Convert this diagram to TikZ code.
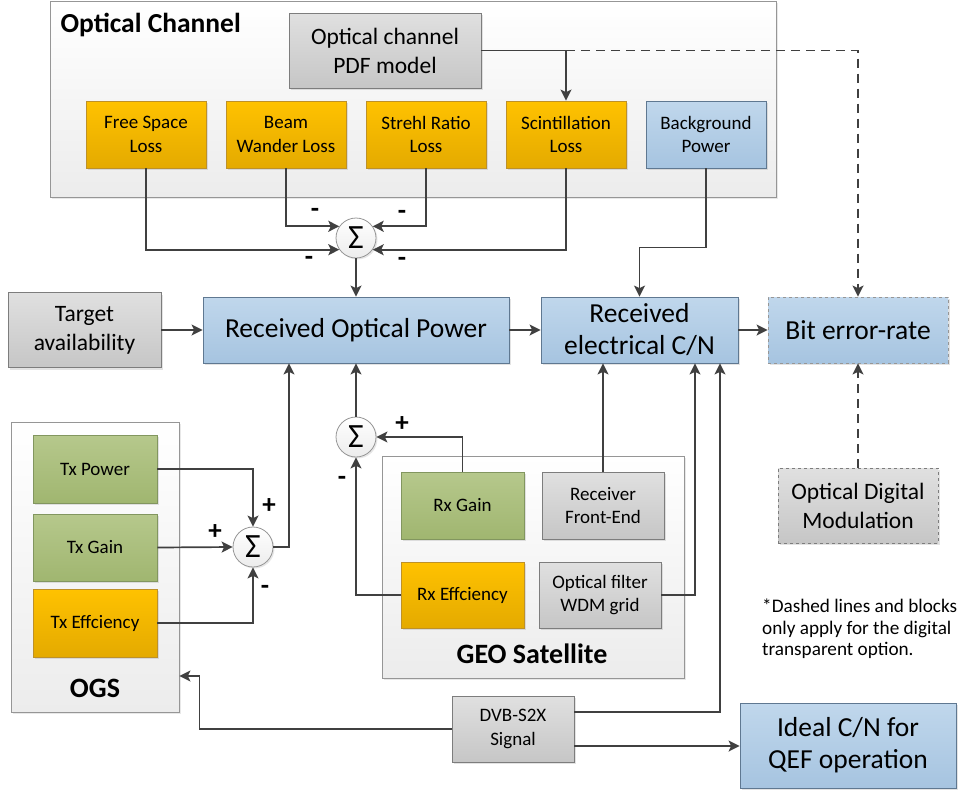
\documentclass[tikz,border=0pt]{standalone}
\usepackage{fontspec}
\setmainfont{Carlito}
\usetikzlibrary{arrows.meta,calc,shadows}
\definecolor{AmberTop}{RGB}{255,194,0}
\definecolor{AmberBot}{RGB}{228,170,0}
\definecolor{AmberLine}{RGB}{190,145,40}
\definecolor{SageTop}{RGB}{182,200,140}
\definecolor{SageBot}{RGB}{160,182,112}
\definecolor{SageLine}{RGB}{130,150,95}
\definecolor{SkyTop}{RGB}{192,215,236}
\definecolor{SkyBot}{RGB}{166,196,224}
\definecolor{SkyLine}{RGB}{95,120,145}
\definecolor{AshTop}{RGB}{224,224,224}
\definecolor{AshBot}{RGB}{198,198,198}
\definecolor{AshLine}{RGB}{125,125,125}
\definecolor{PanelBot}{RGB}{236,236,236}
\definecolor{WireGray}{RGB}{64,64,64}
\definecolor{FrameGray}{RGB}{150,150,150}

\begin{document}
\begin{tikzpicture}[x=1pt,y=-1pt,>={Stealth[length=11pt,width=11pt,inset=2.5pt]},
    blk/.style={draw,line width=0.8pt,align=center,inner sep=0pt,
      drop shadow={shadow xshift=2pt,shadow yshift=-2pt,opacity=0.22}},
    amber/.style={blk,top color=AmberTop,bottom color=AmberBot,draw=AmberLine},
    sage/.style={blk,top color=SageTop,bottom color=SageBot,draw=SageLine},
    sky/.style={blk,top color=SkyTop,bottom color=SkyBot,draw=SkyLine},
    ash/.style={blk,top color=AshTop,bottom color=AshBot,draw=AshLine},
    panel/.style={draw=FrameGray,line width=0.8pt,top color=white,bottom color=PanelBot,inner sep=0pt,
      drop shadow={shadow xshift=2pt,shadow yshift=-2pt,opacity=0.18}},
    sumnode/.style={circle,draw=FrameGray,line width=0.8pt,top color=white,bottom color=PanelBot,
      minimum size=40pt,inner sep=0pt,font=\fontsize{34}{34}\selectfont,
      drop shadow={shadow xshift=1.5pt,shadow yshift=-1.5pt,opacity=0.2}},
    txtS/.style={font=\fontsize{19}{23.5}\selectfont},
    txtM/.style={font=\fontsize{23.5}{29}\selectfont},
    txtL/.style={font=\fontsize{27.5}{32}\selectfont},
    ttl/.style={font=\fontsize{28}{30}\selectfont\bfseries},
    sgn/.style={font=\fontsize{27}{27}\selectfont\bfseries,inner sep=0pt},
    wire/.style={draw=WireGray,line width=1.7pt}]
  \useasboundingbox (0,0) rectangle (961,793);

  % optical channel
  \node[panel,minimum width=726pt,minimum height=196pt] (och) at (413,99) {};
  \node[ttl,anchor=west,font=\fontsize{27.5}{30}\selectfont\bfseries] (ochT) at (57,25) {Optical Channel};
  \node[ash,font=\fontsize{23.5}{29}\selectfont,minimum width=192pt,minimum height=75pt] (pdf) at (385,50.5) {Optical channel\\PDF model};
  \node[amber,txtS,minimum width=120pt,minimum height=67pt] (fsl) at (146,134.5) {Free Space\\Loss};
  \node[amber,txtS,minimum width=120pt,minimum height=67pt] (bwl) at (286,134.5) {Beam\\Wander Loss};
  \node[amber,txtS,minimum width=120pt,minimum height=67pt] (srl) at (426,134.5) {Strehl Ratio\\Loss};
  \node[amber,txtS,minimum width=120pt,minimum height=67pt] (scl) at (566,134.5) {Scintillation\\Loss};
  \node[sky,txtS,minimum width=120pt,minimum height=67pt] (bgp) at (706,134.5) {Background\\Power};

  \node[sumnode] (sig1) at (356,238) {Σ};
  \node[sgn] at (315,213) {-};
  \node[sgn] at (402,215) {-};
  \node[sgn] at (309,261) {-};
  \node[sgn] at (402,262) {-};

  % main chain
  \node[ash,txtM,minimum width=153pt,minimum height=75pt] (ta) at (84.5,330) {Target\\availability};
  \node[sky,txtL,minimum width=306pt,minimum height=66pt] (rop) at (356,330) {Received Optical Power};
  \node[sky,txtL,minimum width=197pt,minimum height=66pt] (cn) at (639.5,330) {Received\\electrical C/N};
  \node[sky,txtL,dashed,draw=FrameGray,minimum width=180pt,minimum height=66pt] (ber) at (858,330) {Bit error-rate};
  \node[ash,txtM,dashed,minimum width=160pt,minimum height=75pt] (odm) at (858,505.5) {Optical Digital\\Modulation};
  \node[font=\fontsize{19.2}{21.5}\selectfont,align=left,anchor=north west,inner sep=0pt] (note) at (762,599)
    {*Dashed lines and blocks\\only apply for the digital\\transparent option.};

  % GEO satellite
  \node[panel,minimum width=302pt,minimum height=222pt] (geo) at (533,567) {};
  \node[ttl] (geoT) at (532,654) {GEO Satellite};
  \node[sage,txtS,minimum width=123pt,minimum height=67pt] (rxg) at (462.5,505.5) {Rx Gain};
  \node[ash,txtS,minimum width=122pt,minimum height=67pt] (rfe) at (603,505.5) {Receiver\\Front-End};
  \node[amber,txtS,minimum width=123pt,minimum height=66pt] (rxe) at (462.5,595) {Rx Effciency};
  \node[ash,txtS,minimum width=122pt,minimum height=66pt] (ofw) at (600,595) {Optical filter\\WDM grid};
  \node[sumnode] (sig2) at (356,437) {Σ};
  \node[sgn] at (402,424) {+};
  \node[sgn] at (342,481) {-};

  % OGS
  \node[panel,minimum width=168pt,minimum height=290pt] (ogs) at (95,567) {};
  \node[ttl] (ogsT) at (95,688) {OGS};
  \node[sage,txtS,minimum width=124pt,minimum height=68pt] (txp) at (95,469) {Tx Power};
  \node[sage,txtS,minimum width=124pt,minimum height=67pt] (txg) at (95,547.5) {Tx Gain};
  \node[amber,txtS,minimum width=124pt,minimum height=68pt] (txe) at (95,623) {Tx Effciency};
  \node[sumnode] (sig3) at (253,547) {Σ};
  \node[sgn] at (269,506) {+};
  \node[sgn] at (215,532) {+};
  \node[sgn] at (265,590) {-};

  % signal
  \node[ash,txtS,minimum width=122pt,minimum height=66pt] (dvb) at (513,729) {DVB-S2X\\Signal};
  \node[sky,txtL,minimum width=216pt,minimum height=85pt] (ideal) at (848,745.5) {Ideal C/N for\\QEF operation};
  \coordinate (ogsin) at ([yshift=-109pt]ogs.east);

  % connectors
  \draw[wire,->] (fsl.south) |- (sig1.215);
  \draw[wire,->] (bwl.south) |- (sig1.145);
  \draw[wire,->] (srl.south) |- (sig1.35);
  \draw[wire,->] (scl.south) |- (sig1.-35);
  \draw[wire,->] (sig1.south) -- (rop.north);
  \draw[wire,->] (pdf.east) -| (scl.north);
  \draw[wire,->,dash pattern=on 9pt off 6pt] (scl.north |- pdf.east) -| (ber.north);
  \draw[wire,->] (bgp.south) -- ++(0,79) -| (cn.north);
  \draw[wire,->] (ta.east) -- (rop.west);
  \draw[wire,->] (rop.east) -- (cn.west);
  \draw[wire,->] (cn.east) -- (ber.west);
  \draw[wire,->,dash pattern=on 9pt off 6pt] (odm.north) -- (ber.south);
  \draw[wire,->] (sig2.north) -- (rop.south);
  \draw[wire,->] (rxg.north) |- (sig2.east);
  \draw[wire,->] (rxe.west) -| (sig2.south);
  \draw[wire,->] (rfe.north) -- (rfe.north |- cn.south);
  \draw[wire,->] (ofw.east) -| ([xshift=55.5pt]cn.south);
  \draw[wire,->] ([yshift=17pt]dvb.east) -| ([xshift=80.5pt]cn.south);
  \draw[wire,->] ([yshift=-17pt]dvb.east) -- ([yshift=-17pt]dvb.east -| ideal.west);
  \draw[wire,->] (sig3.east) -| ([xshift=-67pt]rop.south);
  \draw[wire,->] (txp.east) -| (sig3.north);
  \draw[wire,->] (txg.east) -- (sig3.west);
  \draw[wire,->] (txe.east) -| (sig3.south);
  \draw[wire,->] (dvb.west) -| ([xshift=20pt]ogsin) -- (ogsin);
\end{tikzpicture}
\end{document}
